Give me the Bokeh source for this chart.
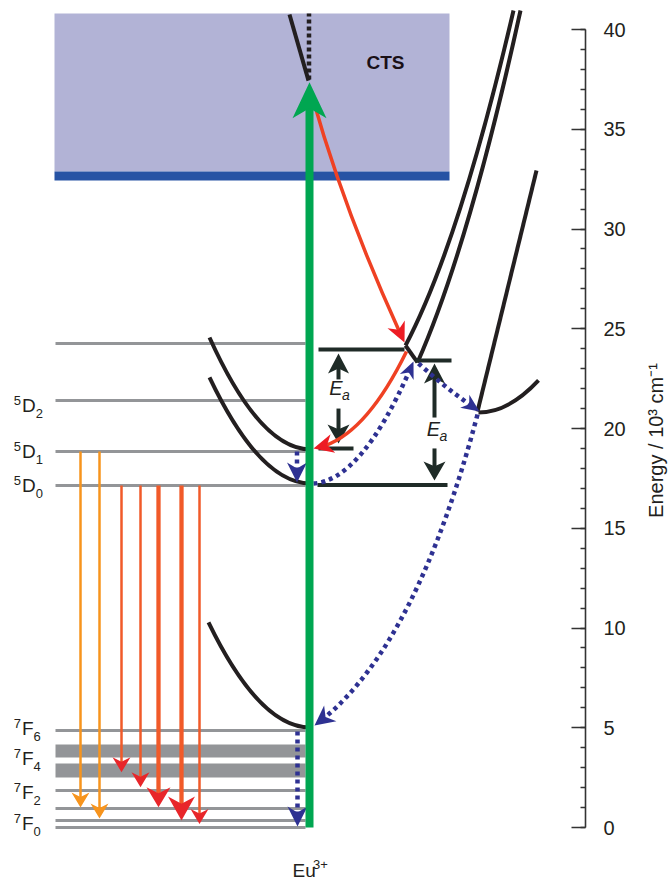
import math
from bokeh.plotting import figure
from bokeh.layouts import row
from bokeh.models import Range1d, SingleIntervalTicker
from bokeh.core.properties import value
from bokeh.embed import file_html
from bokeh.resources import INLINE

# ======================= DATA =======================
# vertical: energy in 10^3 cm^-1 ; horizontal: schematic configuration coordinate
level_E = [24.26, 21.40, 18.85, 17.14, 4.86, 1.85, 0.95, 0.35, 0.00]
band_E_low = [3.51, 2.51]
band_E_high = [4.16, 3.21]

label_sup = ["5", "5", "5", "7", "7", "7", "7"]
label_main = ["D", "D", "D", "F", "F", "F", "F"]
label_sub = ["2", "1", "0", "6", "4", "2", "0"]
label_E = [21.15, 18.85, 17.14, 4.96, 3.46, 1.75, 0.20]

cts_band_E = [32.88, 40.80]
cts_edge_E = [32.43, 32.88]
cts_label_E = 38.35

excitation_E = [0.00, 37.35]
excitation_dotted_E = [37.50, 40.80]

em_orange_x = [80, 99]
em_orange_from = [18.85, 18.85]
em_orange_to = [1.00, 0.45]

em_red_x = [121, 140, 158, 181, 199]
em_red_from = [17.14, 17.14, 17.14, 17.14, 17.14]
em_red_to = [2.77, 2.02, 1.01, 0.35, 0.18]
em_red_strength = [1, 1, 2, 3, 1]

# potential curves as quadratic segments: start, control, end
curve_x0 = [209, 209, 208, 405, 417, 478, 405, 289, 477]
curve_E0 = [24.56, 22.56, 10.28, 24.16, 23.31, 20.80, 24.16, 40.75, 20.85]
curve_cx = [259.5, 259.5, 259, 459, 468.5, 508, 411, 298.5, 506.5]
curve_cE = [18.95, 17.24, 5.01, 29.31, 29.15, 20.80, 23.735, 39.095, 26.89]
curve_x1 = [310, 310, 310, 513, 520, 538, 417, 308, 536]
curve_E1 = [18.95, 17.24, 5.01, 40.95, 40.95, 22.41, 23.31, 37.44, 32.93]

# red curved arrows (CTS -> crossing, crossing -> 5D1)
red_x0 = [312, 406]
red_E0 = [36.59, 23.86]
red_cx = [345, 362]
red_cE = [30.68, 19.36]
red_x1 = [404, 313]
red_E1 = [24.31, 19.00]

# blue dotted (non-radiative) arrows
blue_x0 = [313, 418, 477, 296.5, 297]
blue_E0 = [17.24, 23.26, 20.70, 18.85, 4.81]
blue_cx = [362.5, 447, 414, 296.5, 297]
blue_cE = [17.40, 21.95, 8.77, 18.07, 2.43]
blue_x1 = [413, 479, 314, 296.5, 297]
blue_E1 = [23.36, 20.85, 5.11, 17.29, 0.05]

# activation energy markers
ea_bar_x0 = [318, 318, 415, 317]
ea_bar_x1 = [404, 353, 451, 447]
ea_bar_E = [23.96, 19.00, 23.41, 17.17]
ea_x = [338, 434]
ea_up_tip = [23.76, 23.26]
ea_up_tail = [22.46, 20.55]
ea_down_tail = [21.00, 19.00]
ea_down_tip = [19.25, 17.39]
ea_label_x = [335.5, 433]
ea_label_E = [22.03, 19.97]

axis_ticks_major = 5
axis_bounds = (0, 40)
axis_title = "Energy / 10³ cm⁻¹"

# ======================= GEOMETRY HELPERS =======================
FW, FH = 585, 882
RIGHT_PANEL = 45
TITLE_W = 670 - FW - RIGHT_PANEL
S = 19.95                 # px per 10^3 cm^-1
Y_TOP = 827 / S
Y_BOT = Y_TOP - FH / S


def to_px(x, E):
    return (x, (Y_TOP - E) * S)


def to_data(px, py):
    return (px, Y_TOP - py / S)


def head_poly(tip, ux, uy, L, W, notch):
    tx, ty = tip
    nx, ny = -uy, ux
    bx, by = tx - L * ux, ty - L * uy
    mx, my = tx - (1 - notch) * L * ux, ty - (1 - notch) * L * uy
    pts = [(tx, ty), (bx + W / 2 * nx, by + W / 2 * ny), (mx, my),
           (bx - W / 2 * nx, by - W / 2 * ny)]
    d = [to_data(*q) for q in pts]
    return [q[0] for q in d], [q[1] for q in d]


def straight_arrow(x0, E0, x1, E1, L, W, notch=0.3):
    p0, p1 = to_px(x0, E0), to_px(x1, E1)
    dx, dy = p1[0] - p0[0], p1[1] - p0[1]
    n = math.hypot(dx, dy)
    ux, uy = dx / n, dy / n
    hx, hy = head_poly(p1, ux, uy, L, W, notch)
    back = (1 - notch) * L - 1.5
    sx, sE = to_data(p1[0] - back * ux, p1[1] - back * uy)
    return (x0, E0, sx, sE), (hx, hy)


def bez(P0, C, P2, t):
    a = (1 - t) ** 2
    b = 2 * (1 - t) * t
    c = t ** 2
    return (a * P0[0] + b * C[0] + c * P2[0], a * P0[1] + b * C[1] + c * P2[1])


def curve_arrow(x0, E0, cx, cE, x1, E1, L, W, notch=0.3):
    P0, C, P2 = to_px(x0, E0), to_px(cx, cE), to_px(x1, E1)
    target = (1 - notch) * L - 1.5
    lo, hi = 0.0, 1.0
    for _ in range(60):
        mid = 0.5 * (lo + hi)
        B = bez(P0, C, P2, mid)
        if math.hypot(B[0] - P2[0], B[1] - P2[1]) > target:
            lo = mid
        else:
            hi = mid
    t = lo
    B = bez(P0, C, P2, t)
    C2 = (P0[0] + t * (C[0] - P0[0]), P0[1] + t * (C[1] - P0[1]))
    dx, dy = P2[0] - B[0], P2[1] - B[1]
    n = math.hypot(dx, dy)
    hx, hy = head_poly(P2, dx / n, dy / n, L, W, notch)
    c_d = to_data(*C2)
    b_d = to_data(*B)
    return (x0, E0, c_d[0], c_d[1], b_d[0], b_d[1]), (hx, hy)


# ======================= FIGURE =======================
p = figure(frame_width=FW, frame_height=FH,
           x_range=Range1d(0, FW), y_range=Range1d(Y_BOT, Y_TOP),
           x_axis_location=None, y_axis_location="right",
           toolbar_location=None, output_backend="svg",
           min_border_left=0, min_border_top=0, min_border_bottom=0,
           min_border_right=RIGHT_PANEL)
p.outline_line_color = None
p.background_fill_color = "white"
p.border_fill_color = "white"
p.xgrid.visible = False
p.ygrid.visible = False

ax = p.yaxis[0]
ax.ticker = SingleIntervalTicker(interval=axis_ticks_major, num_minor_ticks=5)
ax.bounds = axis_bounds
ax.major_tick_in = 14
ax.major_tick_out = 0
ax.minor_tick_in = 5
ax.minor_tick_out = 0
ax.axis_line_color = "#333333"
ax.axis_line_width = 1.6
ax.major_tick_line_color = "#333333"
ax.major_tick_line_width = 1.6
ax.minor_tick_line_color = "#333333"
ax.minor_tick_line_width = 1.6
ax.major_label_standoff = 18
ax.major_label_text_font = "Liberation Sans"
ax.major_label_text_font_size = "20px"
ax.major_label_text_color = "#231f20"

GRAY = "#939598"
BLACK = "#231f20"
DARK = "#1f2b27"
BLUE = "#2e3192"

# CTS band
p.quad(left=54, right=449, bottom=cts_band_E[0], top=cts_band_E[1],
       fill_color="#b2b3d6", line_color=None)
p.quad(left=54, right=449, bottom=cts_edge_E[0], top=cts_edge_E[1],
       fill_color="#2753a4", line_color=None)

# levels
p.segment(x0=[55] * len(level_E), x1=[305] * len(level_E), y0=level_E, y1=level_E,
          line_color=GRAY, line_width=3)
p.quad(left=[55] * 2, right=[305] * 2, bottom=band_E_low, top=band_E_high,
       fill_color=GRAY, line_color=None)

# emission arrows
for x, e0, e1 in zip(em_orange_x, em_orange_from, em_orange_to):
    s, h = straight_arrow(x, e0, x, e1, 15, 18)
    p.segment(x0=[s[0]], y0=[s[1]], x1=[s[2]], y1=[s[3]], line_color="#f7941d",
              line_width=2.5, line_cap="butt")
    p.patch(x=h[0], y=h[1], fill_color="#f7941d", line_color=None)

red_w = {1: 2.5, 2: 4.3, 3: 4.3}
red_hw = {1: 18, 2: 24, 3: 27}
red_hl = {1: 15, 2: 20, 3: 24}
for x, e0, e1, k in zip(em_red_x, em_red_from, em_red_to, em_red_strength):
    s, h = straight_arrow(x, e0, x, e1, red_hl[k], red_hw[k])
    p.segment(x0=[s[0]], y0=[s[1]], x1=[s[2]], y1=[s[3]], line_color="#f15a29",
              line_width=red_w[k], line_cap="butt")
    p.patch(x=h[0], y=h[1], fill_color="#e8262a", line_color=None)

# potential curves
p.quadratic(x0=curve_x0, y0=curve_E0, cx=curve_cx, cy=curve_cE, x1=curve_x1, y1=curve_E1,
            line_color=BLACK, line_width=4, line_cap="butt")
p.segment(x0=[308.5], x1=[308.5], y0=[excitation_dotted_E[0]], y1=[excitation_dotted_E[1]],
          line_color=BLACK, line_width=4.5, line_dash="4 3")

# Ea markers
p.segment(x0=ea_bar_x0, x1=ea_bar_x1, y0=ea_bar_E, y1=ea_bar_E, line_color=DARK, line_width=4)
for x, ut, ul, dl, dt in zip(ea_x, ea_up_tip, ea_up_tail, ea_down_tail, ea_down_tip):
    s, h = straight_arrow(x, ul, x, ut, 20, 21, 0.25)
    p.segment(x0=[s[0]], y0=[s[1]], x1=[s[2]], y1=[s[3]], line_color=DARK, line_width=4, line_cap="butt")
    p.patch(x=h[0], y=h[1], fill_color=DARK, line_color=None)
    s, h = straight_arrow(x, dl, x, dt, 19, 22, 0.25)
    p.segment(x0=[s[0]], y0=[s[1]], x1=[s[2]], y1=[s[3]], line_color=DARK, line_width=4, line_cap="butt")
    p.patch(x=h[0], y=h[1], fill_color=DARK, line_color=None)

# blue dotted arrows
blue_L = [17, 18, 20, 20, 20]
blue_W = [15, 16, 20, 20, 20]
for i in range(len(blue_x0)):
    c, h = curve_arrow(blue_x0[i], blue_E0[i], blue_cx[i], blue_cE[i], blue_x1[i], blue_E1[i],
                       blue_L[i], blue_W[i])
    p.quadratic(x0=[c[0]], y0=[c[1]], cx=[c[2]], cy=[c[3]], x1=[c[4]], y1=[c[5]],
                line_color=BLUE, line_width=4.5, line_dash="4 4", line_cap="butt")
    p.patch(x=h[0], y=h[1], fill_color=BLUE, line_color=None)

# red curved arrows
for i in range(len(red_x0)):
    c, h = curve_arrow(red_x0[i], red_E0[i], red_cx[i], red_cE[i], red_x1[i], red_E1[i], 20, 19)
    p.quadratic(x0=[c[0]], y0=[c[1]], cx=[c[2]], cy=[c[3]], x1=[c[4]], y1=[c[5]],
                line_color="#ef4123", line_width=3.5, line_cap="butt")
    p.patch(x=h[0], y=h[1], fill_color="#ed1c24", line_color=None)

# excitation (green)
s, h = straight_arrow(309, excitation_E[0], 309, excitation_E[1], 36, 34, 0.28)
p.segment(x0=[s[0]], y0=[s[1]], x1=[s[2]], y1=[s[3]], line_color="#00a651", line_width=8,
          line_cap="butt")
p.patch(x=h[0], y=h[1], fill_color="#00a651", line_color=None)

# ======================= TEXT =======================
FONT = value("Liberation Sans")
main_w = {"D": 0.722 * 19, "F": 0.611 * 19}
p.text(x=[21.5] * len(label_main), y=label_E, text=label_main, text_font=FONT,
       text_font_size="19px", text_align="left", text_baseline="middle", text_color=BLACK)
p.text(x=[20.5] * len(label_sup), y=[e + 4.9 / S for e in label_E], text=label_sup, text_font=FONT,
       text_font_size="13px", text_align="right", text_baseline="middle", text_color=BLACK)
p.text(x=[21.5 + main_w[m] for m in label_main], y=[e - 8.2 / S for e in label_E], text=label_sub,
       text_font=FONT, text_font_size="13px", text_align="left", text_baseline="middle",
       text_color=BLACK)

p.text(x=[385], y=[cts_label_E], text=["CTS"], text_font=FONT,
       text_font_size="19px", text_font_style="bold", text_align="center",
       text_baseline="middle", text_color="#1a1016")

p.text(x=ea_label_x, y=ea_label_E, text=["E", "E"], text_font=FONT, text_font_size="20px",
       text_font_style="italic", text_align="center", text_baseline="middle", text_color=BLACK)
p.text(x=[x + 6 for x in ea_label_x], y=[e - 7.3 / S for e in ea_label_E], text=["a", "a"],
       text_font=FONT, text_font_size="14px", text_font_style="italic", text_align="left",
       text_baseline="middle", text_color=BLACK)

p.text(x=[292], y=[-43 / S], text=["Eu"], text_font=FONT, text_font_size="19px",
       text_align="left", text_baseline="middle", text_color=BLACK)
p.text(x=[312.5], y=[-37 / S], text=["3+"], text_font=FONT, text_font_size="13px",
       text_align="left", text_baseline="middle", text_color=BLACK)

# axis title in a narrow strip to the right of the axis
t = figure(frame_width=TITLE_W, frame_height=FH,
           x_range=Range1d(0, TITLE_W), y_range=Range1d(Y_BOT, Y_TOP),
           x_axis_location=None, y_axis_location=None,
           toolbar_location=None, output_backend="svg",
           min_border_left=0, min_border_right=0, min_border_top=0, min_border_bottom=0)
t.outline_line_color = None
t.xgrid.visible = False
t.ygrid.visible = False
t.text(x=[655 - FW - RIGHT_PANEL], y=[(827 - 440) / S], text=[axis_title], angle=math.pi / 2,
       text_font=FONT, text_font_size="20px", text_align="center", text_baseline="middle",
       text_color=BLACK)

layout = row(p, t, spacing=0)
open("out.html", "w").write(file_html(layout, INLINE))
